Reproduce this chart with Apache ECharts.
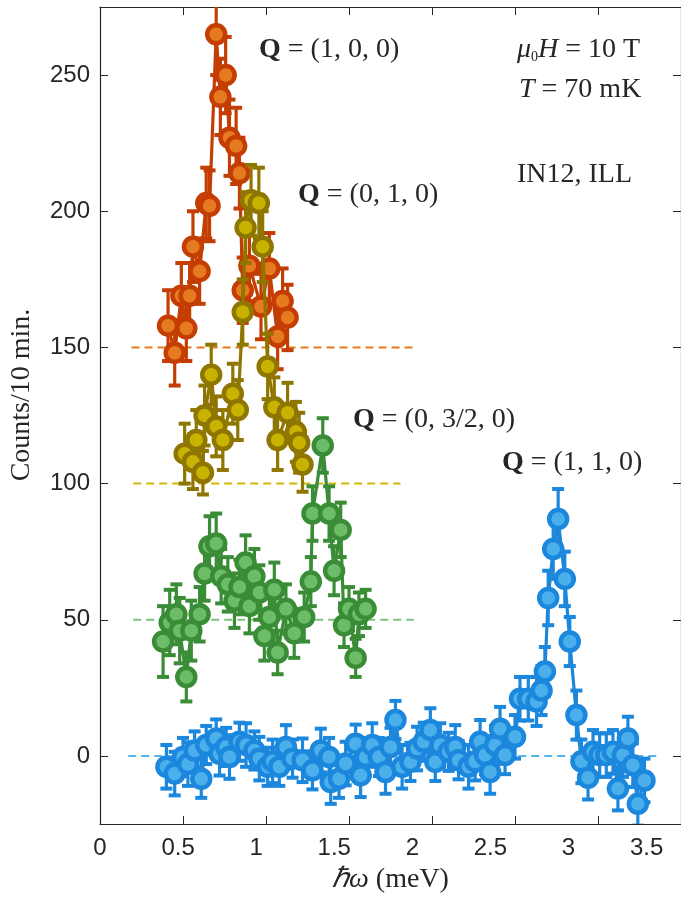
<!DOCTYPE html>
<html><head><meta charset="utf-8">
<script src="https://cdn.jsdelivr.net/npm/echarts@6/dist/echarts.min.js"></script>
<style>html,body{margin:0;padding:0;background:#fff}#c{width:681px;height:899px}</style>
</head><body><div id="c"></div>
<script>
// ---- tick labels ----
const xTicks = [0, 0.5, 1, 1.5, 2, 2.5, 3, 3.5];
const xTickLabels = ['0', '0.5', '1', '1.5', '2', '2.5', '3', '3.5'];
const yTicks = [0, 50, 100, 150, 200, 250];
const yTickLabels = ['0', '50', '100', '150', '200', '250'];

// ---- Q=(1,0,0) ----
const q100E = [0.41,0.45,0.49,0.52,0.54,0.56,0.60,0.64,0.66,0.70,0.725,0.757,0.78,0.82,0.84,0.86,0.90,0.97,1.02,1.07,1.10,1.13];
const q100C = [158,148,169,157,169,187,178,203,202,265,242,250,227,224,214,171,180,165,179,154,167,161];
const q100Err = [13,12,12,12,12,13,12,13,13,15,14,14,14,14,13,12,13,12,13,12,12,12];
const q100Base = [[0.19, 150], [1.89, 150]];

// ---- Q=(0,1,0) ----
const q010E = [0.51,0.56,0.58,0.62,0.63,0.67,0.70,0.74,0.80,0.83,0.86,0.877,0.91,0.957,0.98,1.01,1.05,1.07,1.13,1.18,1.20,1.22];
const q010C = [111,108,116,104,125,140,121,116,133,127,163,194,204,203,187,143,128,116,126,119,115,107];
const q010Err = [11,10,11,8,11,11,11,11,11,11,12,13,13,13,13,12,11,11,11,11,11,10];
const q010Base = [[0.20, 100], [1.81, 100]];

// ---- Q=(0,3/2,0) ----
const q0h0E = [0.38,0.42,0.46,0.48,0.52,0.55,0.60,0.63,0.66,0.70,0.73,0.77,0.81,0.84,0.877,0.90,0.93,0.96,0.99,1.02,1.05,1.07,1.12,1.17,1.23,1.27,1.28,1.342,1.38,1.41,1.45,1.47,1.50,1.54,1.56,1.60];
const q0h0C = [42,49,52,46,29,46,52,67,77,78,66,63,57,62,71,55,66,60,44,51,61,38,54,45,51,64,89,114,89,68,83,48,54,36,52,54];
const q0h0Err = [13,12,11,12,9,11,10,10,11,11,10,10,10,10,10,10,10,10,9,9,10,8,9,9,9,9,10,10,10,9,10,8,8,7,8,7];
const q0h0Base = [[0.20, 50], [1.89, 50]];

// ---- Q=(1,1,0) ----
const q110E = [0.40,0.45,0.50,0.53,0.57,0.61,0.64,0.70,0.72,0.76,0.78,0.84,0.88,0.93,0.96,1.01,1.04,1.08,1.12,1.16,1.22,1.28,1.33,1.38,1.39,1.44,1.48,1.54,1.57,1.60,1.64,1.68,1.72,1.75,1.78,1.82,1.87,1.91,1.95,1.99,2.02,2.05,2.10,2.14,2.16,2.22,2.26,2.29,2.32,2.35,2.38,2.41,2.44,2.50,2.53,2.58,2.63,2.66,2.68,2.70,2.73,2.76,2.80,2.83,2.87,2.90,2.94,2.97,3.01,3.05,3.09,3.12,3.15,3.18,3.21,3.24,3.28];
const q110C = [-4,-6.5,-0.4,-3,2,-8.4,4,6.4,0.8,3.3,-0.4,5.2,4,2,-1,-4,-2,-4,3.3,-1,-1.6,-5.3,2,-0.4,-9.6,-8.4,-2.8,4.5,-7.1,-0.4,4,-0.4,-5.9,3.3,13.2,-4,-2.2,2.7,5.2,9.5,-2.2,4,1.5,3.3,-1.6,-4,-2,5.2,0.3,-5.9,4,10,0.3,7,21,21,20,24,31,58,76,87,65,42,15,-2,-8,1.5,0.3,0.3,1.5,-12,0.3,6.4,-3.4,-17.6,-9];
const q110Err = [8,8,7,8,7,7,7,7,8,7,8,7,8,7,8,7,8,7,8,7,8,7,8,7,8,7,8,7,8,7,8,7,8,7,7,8,7,8,7,8,7,8,7,8,7,8,7,8,7,8,7,8,7,8,8,8,9,9,9,10,11,11,10,9,9,8,8,8,8,8,8,8,8,8,8,8,8];
const q110Base = [[0.17, 0], [3.38, 0]];

const styles = [
  {name:'Q=(1,1,0)', E:q110E, C:q110C, Err:q110Err, base:q110Base, edge:'#1B87DD', fill:'#4AAFEA', dash:'#52B6EA', z:3},
  {name:'Q=(0,3/2,0)', E:q0h0E, C:q0h0C, Err:q0h0Err, base:q0h0Base, edge:'#3A8D36', fill:'#6DBC68', dash:'#7CC27A', z:4},
  {name:'Q=(1,0,0)', E:q100E, C:q100C, Err:q100Err, base:q100Base, edge:'#C43D02', fill:'#E67A20', dash:'#E87A1E', z:5},
  {name:'Q=(0,1,0)', E:q010E, C:q010C, Err:q010Err, base:q010Base, edge:'#8E7600', fill:'#C7B300', dash:'#D2B800', z:6}
];

const series = [];
styles.forEach(s => {
  series.push({
    type:'line', data:s.base, symbol:'none', silent:true, z:1,
    lineStyle:{color:s.dash, width:2, type:[8,5]}
  });
});
styles.forEach(s => {
  const ebData = s.E.map((x,i) => [x, s.C[i], s.Err[i]]);
  series.push({
    type:'custom', z:s.z, clip:true, silent:true,
    data: ebData,
    renderItem: function(params, api){
      const x = api.value(0), y = api.value(1), e = api.value(2);
      const lo = api.coord([x, y - e]);
      const hi = api.coord([x, y + e]);
      const w = 6;
      return {type:'group', children:[
        {type:'line', shape:{x1:lo[0], y1:lo[1], x2:hi[0], y2:hi[1]}, style:{stroke:s.edge, lineWidth:3.2}},
        {type:'line', shape:{x1:lo[0]-w, y1:lo[1], x2:lo[0]+w, y2:lo[1]}, style:{stroke:s.edge, lineWidth:4}},
        {type:'line', shape:{x1:hi[0]-w, y1:hi[1], x2:hi[0]+w, y2:hi[1]}, style:{stroke:s.edge, lineWidth:4}}
      ]};
    }
  });
  series.push({
    type:'line', name:s.name, z:s.z, silent:true,
    data: s.E.map((x,i) => [x, s.C[i]]),
    symbol:'circle', symbolSize:18, showAllSymbol:true,
    itemStyle:{color:s.fill, borderColor:s.edge, borderWidth:4.5},
    lineStyle:{color:s.edge, width:3.2}
  });
});

const axisCol = '#262626';
const serif = 'Liberation Serif';
const option = {
  animation:false,
  backgroundColor:'#fff',
  grid:{left:100, right:-1, top:7, bottom:75, containLabel:false},
  xAxis:[
    {type:'value', min:0, max:3.5, position:'bottom',
     axisLine:{show:true, onZero:false, lineStyle:{color:axisCol, width:1.2}},
     axisTick:{show:true, inside:true, length:8, customValues:xTicks, lineStyle:{color:axisCol}},
     axisLabel:{show:false}, splitLine:{show:false}},
    {type:'value', min:0, max:3.72, position:'bottom',
     axisLine:{show:false, onZero:false}, axisTick:{show:false}, splitLine:{show:false},
     axisLabel:{show:true, customValues:xTicks, margin:12, fontSize:24, color:axisCol, fontFamily:'Liberation Sans',
       formatter:(v) => { const i = xTicks.indexOf(v); return i >= 0 ? xTickLabels[i] : ''; }},
     name:'{i|\u210F\u03C9} (meV)', nameLocation:'middle', nameGap:42,
     nameTextStyle:{fontSize:28, fontFamily:serif, color:axisCol,
       rich:{i:{fontSize:28, fontFamily:serif, fontStyle:'italic', color:axisCol}}}},
    {type:'value', min:0, max:3.5, position:'top',
     axisLine:{show:true, onZero:false, lineStyle:{color:axisCol, width:1.2}},
     axisTick:{show:true, inside:true, length:8, customValues:xTicks, lineStyle:{color:axisCol}},
     axisLabel:{show:false}, splitLine:{show:false}}
  ],
  yAxis:[
    {type:'value', min:-25, max:275, position:'left',
     axisLine:{show:true, onZero:false, lineStyle:{color:axisCol, width:1.2}},
     axisTick:{show:true, inside:true, length:8, customValues:yTicks, lineStyle:{color:axisCol}},
     axisLabel:{show:true, customValues:yTicks, margin:10, fontSize:24, color:axisCol, fontFamily:'Liberation Sans',
       formatter:(v) => { const i = yTicks.indexOf(v); return i >= 0 ? yTickLabels[i] : ''; }},
     splitLine:{show:false}},
    {type:'value', min:-25, max:275, position:'right',
     axisLine:{show:true, onZero:false, lineStyle:{color:axisCol, width:1.2}},
     axisTick:{show:true, inside:true, length:8, customValues:yTicks, lineStyle:{color:axisCol}},
     axisLabel:{show:false}, splitLine:{show:false}}
  ],
  series: series,
  graphic:[]
};

const rich = {
  b:{fontFamily:serif, fontSize:28, fontWeight:'bold', fill:axisCol},
  i:{fontFamily:serif, fontSize:28, fontStyle:'italic', fill:axisCol},
  s:{fontFamily:serif, fontSize:14, verticalAlign:'bottom', fill:axisCol},
  n:{fontFamily:serif, fontSize:28, fill:axisCol}
};
const annotations = [
  ['{b|Q}{n| = (1, 0, 0)}', 259, 50],
  ['{i|\u03BC}{s|0}{i|H}{n| = 10 T}', 517, 50],
  ['{i|T}{n| = 70 mK}', 519, 90],
  ['{n|IN12, ILL}', 517, 175],
  ['{b|Q}{n| = (0, 1, 0)}', 298, 195],
  ['{b|Q}{n| = (0, 3/2, 0)}', 353, 420],
  ['{b|Q}{n| = (1, 1, 0)}', 502, 463]
];
option.graphic = annotations.map(a => ({
  type:'text', x:a[1], y:a[2], z:50,
  style:{text:a[0], rich:rich, fontFamily:serif, fontSize:28, fill:axisCol, align:'left', verticalAlign:'middle'}
}));
option.graphic.push({
  type:'text', x:22, y:395, rotation:Math.PI/2, z:50,
  style:{text:'Counts/10 min.', fontFamily:serif, fontSize:28, fill:axisCol, align:'center', verticalAlign:'middle'}
});

const chart = echarts.init(document.getElementById('c'), null, {renderer:'canvas'});
chart.setOption(option);
</script></body></html>
